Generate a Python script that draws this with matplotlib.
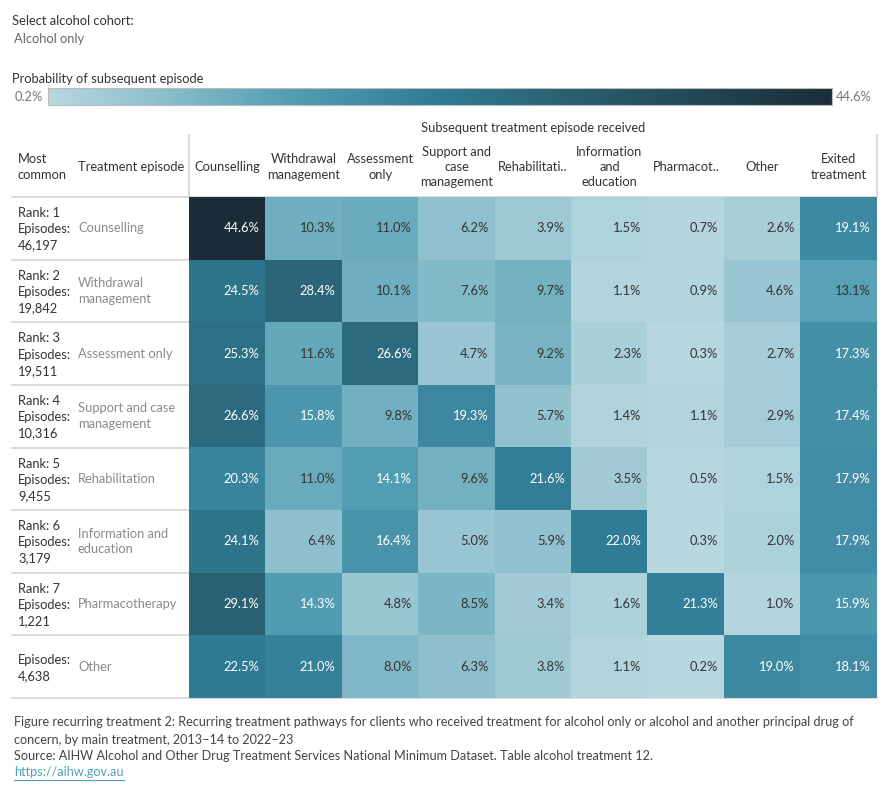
import numpy as np
import matplotlib
matplotlib.use("Agg")
import matplotlib.pyplot as plt
from matplotlib.colors import LinearSegmentedColormap, Normalize
from matplotlib.lines import Line2D

plt.rcParams['font.family'] = ['Lato', 'DejaVu Sans']

# ---------------- data ----------------
col_labels = ["Counselling", "Withdrawal\nmanagement", "Assessment\nonly",
              "Support and\ncase\nmanagement", "Rehabilitati..",
              "Information\nand\neducation", "Pharmacot..", "Other",
              "Exited\ntreatment"]
row_ranks = ["Rank: 1", "Rank: 2", "Rank: 3", "Rank: 4", "Rank: 5",
             "Rank: 6", "Rank: 7", ""]
row_episodes = ["46,197", "19,842", "19,511", "10,316", "9,455",
                "3,179", "1,221", "4,638"]
row_treatments = ["Counselling", "Withdrawal\nmanagement", "Assessment only",
                  "Support and case\nmanagement", "Rehabilitation",
                  "Information and\neducation", "Pharmacotherapy", "Other"]
values = np.array([
    [44.6, 10.3, 11.0, 6.2, 3.9, 1.5, 0.7, 2.6, 19.1],
    [24.5, 28.4, 10.1, 7.6, 9.7, 1.1, 0.9, 4.6, 13.1],
    [25.3, 11.6, 26.6, 4.7, 9.2, 2.3, 0.3, 2.7, 17.3],
    [26.6, 15.8, 9.8, 19.3, 5.7, 1.4, 1.1, 2.9, 17.4],
    [20.3, 11.0, 14.1, 9.6, 21.6, 3.5, 0.5, 1.5, 17.9],
    [24.1, 6.4, 16.4, 5.0, 5.9, 22.0, 0.3, 2.0, 17.9],
    [29.1, 14.3, 4.8, 8.5, 3.4, 1.6, 21.3, 1.0, 15.9],
    [22.5, 21.0, 8.0, 6.3, 3.8, 1.1, 0.2, 19.0, 18.1],
])
vmin, vmax = 0.2, 44.6

# ---------------- styling ----------------
W, H = 890, 800
cmap = LinearSegmentedColormap.from_list(
    "aihw", [(0.0, "#b8d8e0"), (0.12, "#93c3cf"), (0.30, "#56a0b5"),
             (0.50, "#2f7b95"), (0.65, "#2b6374"), (1.0, "#1b2d38")])
norm = Normalize(vmin=vmin, vmax=vmax)
dark_text = "#333333"
gray_text = "#8a8a8a"
line_col = "#d4d4d4"

fig = plt.figure(figsize=(W / 100, H / 100), dpi=100)

def fx(px):
    return px / W

def fy(py):
    return 1 - py / H

# overlay axes in pixel coordinates for labels / lines
bg = fig.add_axes([0, 0, 1, 1])
bg.set_xlim(0, W)
bg.set_ylim(H, 0)
bg.axis("off")

fs = 9.3

bg.text(12, 21, "Select alcohol cohort:", fontsize=fs, color=dark_text, va="center")
bg.text(14, 39, "Alcohol only", fontsize=fs, color="#666666", va="center")
bg.text(12, 79, "Probability of subsequent episode", fontsize=fs, color=dark_text, va="center")
bg.text(15, 97, "0.2%", fontsize=fs, color="#777777", va="center")
bg.text(836, 97, "44.6%", fontsize=fs, color="#777777", va="center")

# colour legend
cax = fig.add_axes([fx(48), fy(105), fx(832 - 48), (105 - 88) / H])
grad = np.linspace(vmin, vmax, 512).reshape(1, -1)
cax.imshow(grad, cmap=cmap, norm=norm, aspect="auto")
cax.set_xticks([])
cax.set_yticks([])
for s in cax.spines.values():
    s.set_color("#bbbbbb")

# heatmap
x0, x1, y0, y1 = 189, 877, 197, 698
ax = fig.add_axes([fx(x0), fy(y1), fx(x1 - x0), (y1 - y0) / H])
nr, nc = values.shape
ax.imshow(values, cmap=cmap, norm=norm, aspect="auto", interpolation="nearest")
ax.set_xlim(-0.5, nc - 0.5)
ax.set_ylim(nr - 0.5, -0.5)
ax.axis("off")
for i in range(nr):
    for j in range(nc):
        v = values[i, j]
        c = "white" if v >= 14 else dark_text
        ax.text(j + 0.42, i, f"{v:.1f}%", ha="right", va="center",
                fontsize=fs, color=c)

# row separators
row_h = (y1 - y0) / nr
for k in range(nr + 1):
    yy = y0 + k * row_h
    bg.add_line(Line2D([12, x1], [yy, yy], color=line_col, lw=1.2, zorder=5))
# header verticals
bg.add_line(Line2D([x0, x0], [135, y0], color=line_col, lw=1.2))
bg.add_line(Line2D([x1, x1], [135, y0], color=line_col, lw=1.2))

# column headers
col_w = (x1 - x0) / nc
bg.text((x0 + x1) / 2, 128, "Subsequent treatment episode received",
        fontsize=fs, color=dark_text, ha="center", va="center")
for j, lab in enumerate(col_labels):
    bg.text(x0 + (j + 0.5) * col_w, 167, lab, fontsize=fs, color=dark_text,
            ha="center", va="center", linespacing=1.35)
bg.text(18, 167, "Most\ncommon", fontsize=fs, color=dark_text, va="center",
        linespacing=1.35)
bg.text(78, 167, "Treatment episode", fontsize=fs, color=dark_text, va="center")

# row labels
for i in range(nr):
    yc = y0 + (i + 0.5) * row_h
    if row_ranks[i]:
        left = f"{row_ranks[i]}\nEpisodes:\n{row_episodes[i]}"
    else:
        left = f"Episodes:\n{row_episodes[i]}"
    bg.text(18, yc + 1, left, fontsize=fs, color=dark_text, va="center",
            linespacing=1.42)
    bg.text(78, yc, row_treatments[i], fontsize=fs, color=gray_text,
            va="center", linespacing=1.35)

# footer
ffs = 9.1
fc = "#444444"
bg.text(14, 722, "Figure recurring treatment 2: Recurring treatment pathways for clients who received treatment for alcohol only or alcohol and another principal drug of",
        fontsize=ffs, color=fc, va="center")
bg.text(14, 740, "concern, by main treatment, 2013–14 to 2022–23",
        fontsize=ffs, color=fc, va="center")
bg.text(14, 756, "Source: AIHW Alcohol and Other Drug Treatment Services National Minimum Dataset. Table alcohol treatment 12.",
        fontsize=ffs, color=fc, va="center")
t = bg.text(14, 772, "https://aihw.gov.au", fontsize=ffs, color="#4f9fc2", va="center")
fig.canvas.draw()
bb = t.get_window_extent()
bg.add_line(Line2D([14, 14 + bb.width], [780, 780], color="#4f9fc2", lw=0.8))

fig.savefig("out.png", dpi=100)
